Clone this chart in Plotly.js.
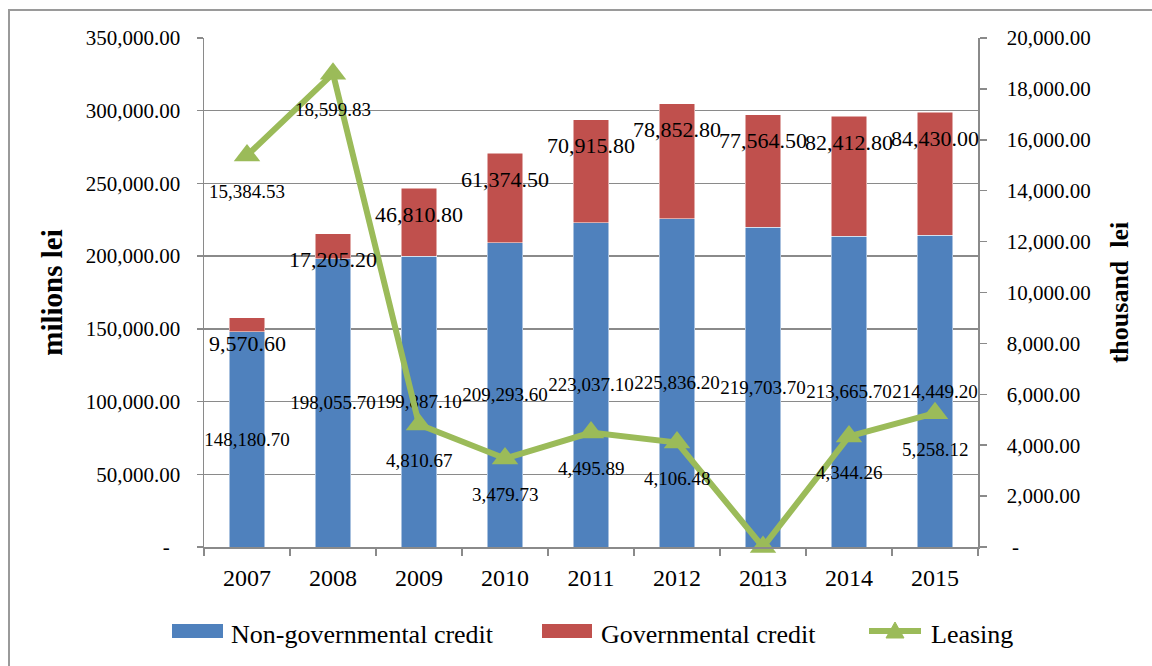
<!DOCTYPE html>
<html>
<head>
<meta charset="utf-8">
<script src="https://cdn.plot.ly/plotly-3.0.1.min.js"></script>
<style>
  html, body { margin: 0; padding: 0; background: #ffffff; }
  #wrap { position: relative; width: 1152px; height: 666px; overflow: hidden; }
  #chart { position: absolute; left: 0; top: 0; width: 1152px; height: 666px; }
  #frame { position: absolute; left: 8px; top: 9px; width: 1200px; height: 720px;
           border: 2px solid #9a9a9a; pointer-events: none; box-sizing: border-box; }
</style>
</head>
<body>
<div id="wrap">
  <div id="chart"></div>
  <div id="frame"></div>
</div>
<script>
// ---- data ----
const years = ['2007', '2008', '2009', '2010', '2011', '2012', '2013', '2014', '2015'];
const nonGovernmental = [148180.70, 198055.70, 199887.10, 209293.60, 223037.10, 225836.20, 219703.70, 213665.70, 214449.20];
const governmental = [9570.60, 17205.20, 46810.80, 61374.50, 70915.80, 78852.80, 77564.50, 82412.80, 84430.00];
const leasing = [15384.53, 18599.83, 4810.67, 3479.73, 4495.89, 4106.48, 0, 4344.26, 5258.12];
const seriesNames = ['Non-governmental credit', 'Governmental credit', 'Leasing'];

const leftTickVals = [0, 50000, 100000, 150000, 200000, 250000, 300000, 350000];
const leftTickText = ['-\u00A0\u00A0', '50,000.00', '100,000.00', '150,000.00', '200,000.00', '250,000.00', '300,000.00', '350,000.00'];
const rightTickVals = [0, 2000, 4000, 6000, 8000, 10000, 12000, 14000, 16000, 18000, 20000];
const rightTickText = ['\u00A0-', '2,000.00', '4,000.00', '6,000.00', '8,000.00', '10,000.00', '12,000.00', '14,000.00', '16,000.00', '18,000.00', '20,000.00'];

// ---- helpers ----
function fmt(v) {
  if (v === 0) return '-';
  const neg = v < 0;
  const s = Math.abs(v).toFixed(2);
  const parts = s.split('.');
  const withCommas = parts[0].replace(/\B(?=(\d{3})+(?!\d))/g, ',');
  return (neg ? '-' : '') + withCommas + '.' + parts[1];
}

const W = 1152, H = 666;
const M = { l: 204, r: 174, t: 38, b: 119 };
const PW = W - M.l - M.r, PH = H - M.t - M.b;
// pixel -> paper helpers (for the hand-drawn legend only)
const px = v => (v - M.l) / PW;
const py = v => (H - M.b - v) / PH;

const FONT = 'Liberation Serif, Times New Roman, serif';
const BLUE = '#4F81BD', RED = '#C0504D', GREEN = '#9BBB59', GRID = '#8a8a8a';

const traces = [
  {
    type: 'bar', name: seriesNames[0], x: years, y: nonGovernmental,
    marker: { color: BLUE, line: { color: '#ffffff', width: 0.5 } },
    text: nonGovernmental.map(fmt), textposition: 'inside', insidetextanchor: 'middle',
    constraintext: 'none', textangle: 0,
    textfont: { family: FONT, size: 19, color: '#000000' },
    hoverinfo: 'skip', showlegend: false
  },
  {
    type: 'bar', name: seriesNames[1], x: years, y: governmental,
    marker: { color: RED, line: { color: '#ffffff', width: 0.5 } },
    hoverinfo: 'skip', showlegend: false
  },
  {
    type: 'scatter', mode: 'lines+markers', name: seriesNames[2], x: years, y: leasing, yaxis: 'y2',
    line: { color: GREEN, width: 6 },
    marker: { symbol: 'triangle-up', size: 23, color: GREEN },
    cliponaxis: false,
    hoverinfo: 'skip', showlegend: false
  }
];

const annotations = [];
years.forEach((yr, i) => {
  annotations.push({
    x: i, y: nonGovernmental[i] + governmental[i], xref: 'x', yref: 'y',
    text: fmt(governmental[i]), showarrow: false, yshift: -26,
    font: { family: FONT, size: 22, color: '#000000' }
  });
  annotations.push({
    x: i, y: leasing[i], xref: 'x', yref: 'y2',
    text: fmt(leasing[i]), showarrow: false, yshift: -36,
    font: { family: FONT, size: 19, color: '#000000' }
  });
});

// ---- legend (drawn by hand to match wide swatches) ----
const legendFont = { family: FONT, size: 26, color: '#000000' };
const shapes = [
  { type: 'rect', xref: 'paper', yref: 'paper', x0: px(172), x1: px(223), y0: py(638), y1: py(624),
    fillcolor: BLUE, line: { width: 0 } },
  { type: 'rect', xref: 'paper', yref: 'paper', x0: px(542), x1: px(592), y0: py(638), y1: py(624),
    fillcolor: RED, line: { width: 0 } },
  { type: 'line', xref: 'paper', yref: 'paper', x0: px(869), x1: px(921), y0: py(631), y1: py(631),
    line: { color: GREEN, width: 6 } },
  { type: 'path', xref: 'paper', yref: 'paper',
    path: 'M ' + px(895) + ' ' + py(622) + ' L ' + px(904) + ' ' + py(638) + ' L ' + px(886) + ' ' + py(638) + ' Z',
    fillcolor: GREEN, line: { color: GREEN, width: 1 } }
];
[[229, seriesNames[0]], [599, seriesNames[1]], [929, seriesNames[2]]].forEach(([x, t]) => {
  annotations.push({ xref: 'paper', yref: 'paper', x: px(x), y: py(634), xanchor: 'left', yanchor: 'middle',
    text: t, showarrow: false, font: legendFont });
});

const layout = {
  width: W, height: H,
  margin: { l: M.l, r: M.r, t: M.t, b: M.b, pad: 0 },
  paper_bgcolor: '#ffffff', plot_bgcolor: '#ffffff',
  barmode: 'stack', bargap: 0.59,
  font: { family: FONT, color: '#000000' },
  showlegend: false,
  xaxis: {
    type: 'category', range: [-0.5, years.length - 0.5], autorange: false,
    tickson: 'boundaries', ticks: 'outside', ticklen: 7, tickcolor: GRID, tickwidth: 1.5,
    showline: true, linecolor: GRID, linewidth: 1.5, showgrid: false,
    tickfont: { family: FONT, size: 24, color: '#000000' }, ticklabelstandoff: 9, tickangle: 0
  },
  yaxis: {
    range: [0, 350000], autorange: false, tickvals: leftTickVals, ticktext: leftTickText,
    ticks: 'outside', ticklen: 6, tickcolor: GRID, tickwidth: 1.5,
    showline: true, linecolor: GRID, linewidth: 1.5,
    showgrid: true, gridcolor: GRID, gridwidth: 1.5, zeroline: false,
    tickfont: { family: FONT, size: 21, color: '#000000' }, ticklabelstandoff: 12,
    title: { text: '<b>milions lei</b>', font: { family: FONT, size: 29, color: '#000000' }, standoff: 14 }
  },
  yaxis2: {
    range: [0, 20000], autorange: false, tickvals: rightTickVals, ticktext: rightTickText,
    overlaying: 'y', side: 'right',
    ticks: 'outside', ticklen: 7, tickcolor: GRID, tickwidth: 1.5,
    showline: true, linecolor: GRID, linewidth: 1.5, showgrid: false, zeroline: false,
    tickfont: { family: FONT, size: 21, color: '#000000' }, ticklabelstandoff: 16,
    title: { text: '<b>thousand  lei</b>', font: { family: FONT, size: 26, color: '#000000' }, standoff: 20 }
  },
  shapes: shapes,
  annotations: annotations
};

Plotly.newPlot('chart', traces, layout, { displayModeBar: false, staticPlot: true });
</script>
</body>
</html>
